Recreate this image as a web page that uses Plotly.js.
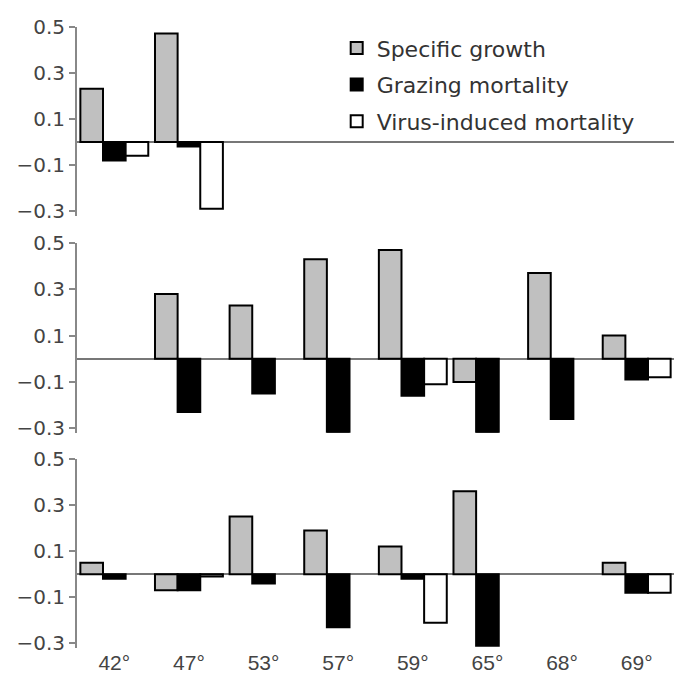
<!DOCTYPE html>
<html>
<head>
<meta charset="utf-8">
<script src="https://cdn.plot.ly/plotly-3.0.1.min.js"></script>
<style>html,body{margin:0;padding:0;background:#fff;}#chart{width:674px;height:677px;}</style>
</head>
<body>
<div id="chart"></div>
<script>
// Categories (latitude)
var categories = ["42°", "47°", "53°", "57°", "59°", "65°", "68°", "69°"];
var seriesNames = ["Specific growth", "Grazing mortality", "Virus-induced mortality"];

// Panel 1 (top)
var growthTop  = [0.23, 0.47, null, null, null, null, null, null];
var grazingTop = [-0.08, -0.02, null, null, null, null, null, null];
var virusTop   = [-0.06, -0.29, null, null, null, null, null, null];

// Panel 2 (middle)
var growthMid  = [null, 0.28, 0.23, 0.43, 0.47, -0.10, 0.37, 0.10];
var grazingMid = [null, -0.23, -0.15, -0.32, -0.16, -0.32, -0.26, -0.09];
var virusMid   = [null, null, null, null, -0.11, null, null, -0.08];

// Panel 3 (bottom)
var growthBot  = [0.05, -0.07, 0.25, 0.19, 0.12, 0.36, null, 0.05];
var grazingBot = [-0.02, -0.07, -0.04, -0.23, -0.02, -0.31, null, -0.08];
var virusBot   = [null, -0.01, null, null, -0.21, null, null, -0.08];

// Y tick values
var tickVals = [-0.3, -0.1, 0.1, 0.3, 0.5];

var fills = ["#c0c0c0", "#000000", "#ffffff"];
var panels = [
  {x: "x", y: "y", data: [growthTop, grazingTop, virusTop]},
  {x: "x2", y: "y2", data: [growthMid, grazingMid, virusMid]},
  {x: "x3", y: "y3", data: [growthBot, grazingBot, virusBot]}
];

var traces = [];
panels.forEach(function (p, pi) {
  p.data.forEach(function (vals, si) {
    traces.push({
      type: "bar",
      x: categories,
      y: vals,
      xaxis: p.x,
      yaxis: p.y,
      name: seriesNames[si],
      legendgroup: "g" + si,
      showlegend: pi === 0,
      marker: {color: fills[si], line: {color: "#000", width: 2}}
    });
  });
});

function yax(domain, anchor) {
  return {
    anchor: anchor,
    domain: domain,
    range: [-0.32, 0.5],
    tickvals: tickVals,
    showgrid: false,
    showline: true,
    linecolor: "#888888",
    linewidth: 2,
    ticks: "outside",
    ticklen: 6,
    tickcolor: "#888888",
    tickwidth: 2,
    zeroline: true,
    zerolinecolor: "#777777",
    zerolinewidth: 1.5,
    tickfont: {family: "DejaVu Sans, sans-serif", size: 20, color: "#444"}
  };
}
function xax(anchor, showLabels) {
  return {
    anchor: anchor,
    categoryorder: "array",
    categoryarray: categories,
    showgrid: false,
    showline: false,
    zeroline: false,
    ticks: "",
    showticklabels: showLabels,
    tickfont: {family: "Liberation Sans, Arial, sans-serif", size: 21, color: "#444"}
  };
}

var layout = {
  width: 674,
  height: 677,
  margin: {l: 77, r: 0, t: 0, b: 29},
  paper_bgcolor: "#fff",
  plot_bgcolor: "#fff",
  barmode: "group",
  bargap: 0.09,
  bargroupgap: 0,
  showlegend: true,
  legend: {
    x: 0.435, xanchor: "left",
    y: 0.958, yanchor: "top",
    bgcolor: "rgba(255,255,255,0)",
    traceorder: "grouped",
    tracegroupgap: 5,
    font: {family: "DejaVu Sans, sans-serif", size: 22, color: "#333"}
  },
  xaxis: xax("y", false),
  xaxis2: xax("y2", false),
  xaxis3: xax("y3", true),
  yaxis: yax([0.667, 0.959], "x"),
  yaxis2: yax([0.332, 0.625], "x2"),
  yaxis3: yax([0.0, 0.2917], "x3")
};

Plotly.newPlot("chart", traces, layout, {displayModeBar: false});
</script>
</body>
</html>
